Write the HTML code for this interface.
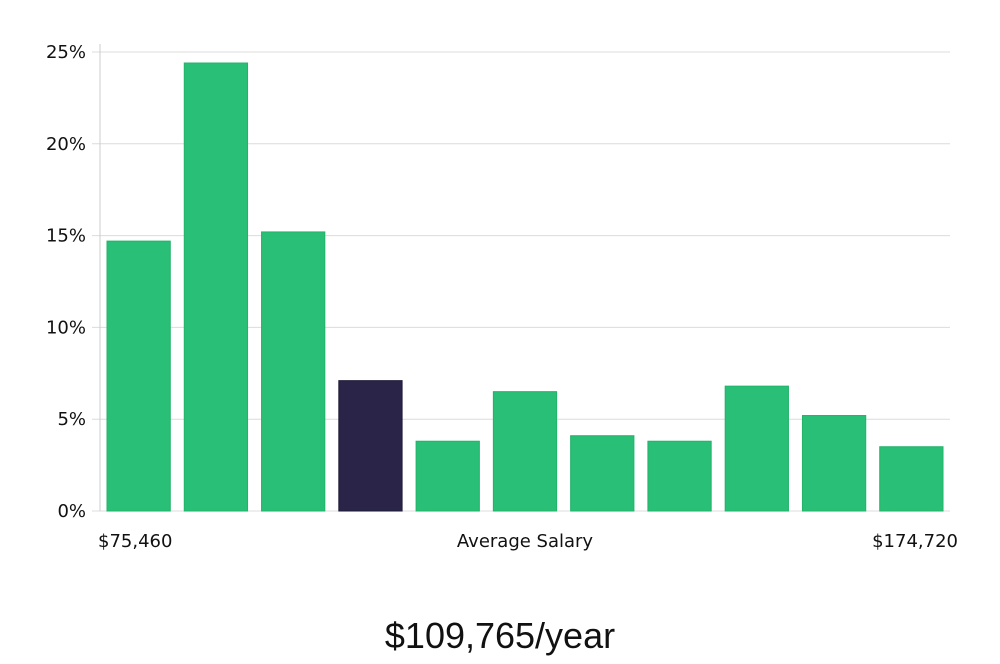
<!DOCTYPE html>
<html><head><meta charset="utf-8"><style>
body{margin:0;background:#fff;width:1000px;height:660px;overflow:hidden;font-family:"DejaVu Sans","Liberation Sans",sans-serif;}
</style></head><body>
<svg width="1000" height="660">
<g id="grid"></g><g id="bars"></g><g id="labels"></g>
<line x1="100" y1="44" x2="100" y2="511" stroke="#ccc"/>
<text x="98" y="547" font-size="18" fill="#111">$75,460</text>
<text x="525" y="547" font-size="18" fill="#111" text-anchor="middle">Average Salary</text>
<text x="958" y="547" font-size="18" fill="#111" text-anchor="end">$174,720</text>
<text x="500" y="648" font-size="36" fill="#111" text-anchor="middle" font-family="Liberation Sans, sans-serif" font-weight="300">$109,765/year</text>
</svg>
<script>
const categories=["b1","b2","b3","b4","b5","b6","b7","b8","b9","b10","b11"];
const values=[14.7,24.4,15.2,7.1,3.8,6.5,4.1,3.8,6.8,5.2,3.5];
const highlight=[false,false,false,true,false,false,false,false,false,false,false];
const ticks=[0,5,10,15,20,25];
const tickLabels=["0%","5%","10%","15%","20%","25%"];
const NS="http://www.w3.org/2000/svg";
const y=v=>511-v*(511-52)/25;
const step=(950-100)/categories.length;
const x=i=>100+i*step+7;
const g=document.getElementById('grid'),b=document.getElementById('bars'),l=document.getElementById('labels');
ticks.forEach((t,i)=>{
 const ln=document.createElementNS(NS,'line');
 
 
 ln.setAttribute('x1',92);ln.setAttribute('x2',950);ln.setAttribute('y1',y(t));ln.setAttribute('y2',y(t));ln.setAttribute('stroke','#dcdcdc');
 g.appendChild(ln);
 const tx=document.createElementNS(NS,'text');
 
 
 tx.setAttribute('x',86);tx.setAttribute('y',y(t)+6);tx.setAttribute('text-anchor','end');tx.setAttribute('font-size','18');tx.setAttribute('fill','#111');
 tx.textContent=tickLabels[i];l.appendChild(tx);
});
values.forEach((v,i)=>{
 const r=document.createElementNS(NS,'rect');
 
 
 r.setAttribute('x',x(i));r.setAttribute('width',step-14);r.setAttribute('y',y(v));r.setAttribute('height',511-y(v));
 r.setAttribute('fill',highlight[i]?'#2a2548':'#2abf76');
 r.setAttribute('stroke',highlight[i]?'#1e1a3a':'#22b36a');
 b.appendChild(r);
});
</script>
</body></html>
